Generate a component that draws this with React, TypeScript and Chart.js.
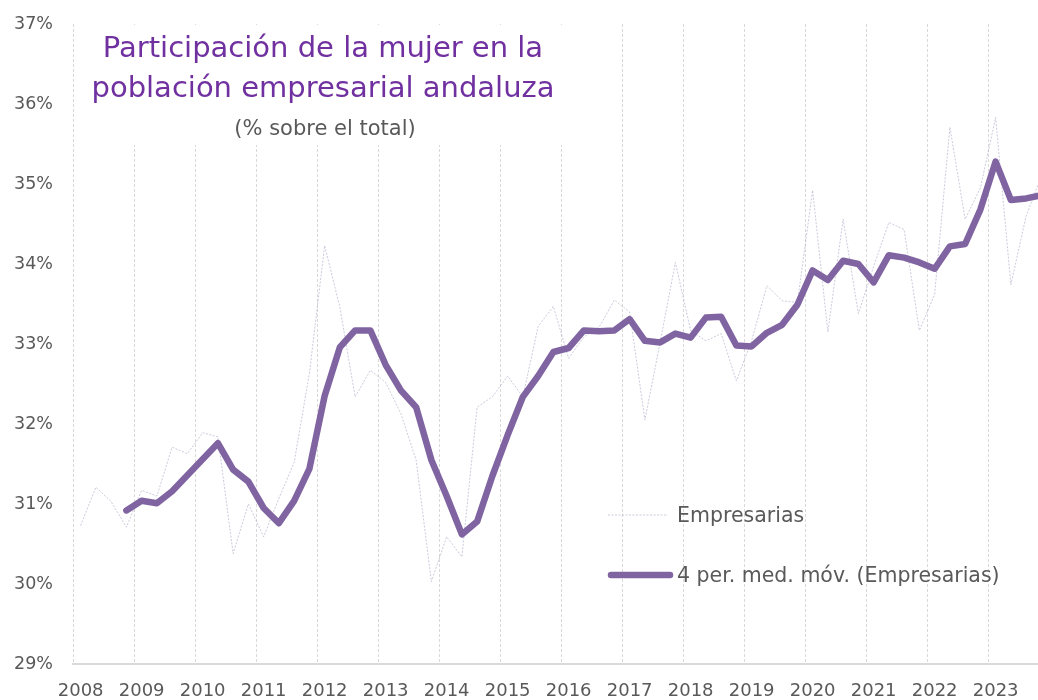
import React, { useEffect, useRef } from 'react';
import { Chart, registerables } from 'chart.js';

Chart.register(...registerables);

const FONT = '"DejaVu Sans", sans-serif';

const years = ['2008', '2009', '2010', '2011', '2012', '2013', '2014', '2015', '2016', '2017', '2018', '2019', '2020', '2021', '2022', '2023'];
const quarters = ['T1', 'T2', 'T3', 'T4'];

// Empresarias: % de mujeres sobre el total (trimestral)
const empresarias = [
  30.73, 31.21, 31.03, 30.71,
  31.17, 31.10, 31.71, 31.63,
  31.89, 31.84, 30.38, 31.00,
  30.59, 31.07, 31.52, 32.63,
  34.23, 33.46, 32.34, 32.67,
  32.52, 32.13, 31.55, 30.03,
  30.59, 30.34, 32.21, 32.34,
  32.60, 32.34, 33.22, 33.47,
  32.82, 33.09, 33.21, 33.55,
  33.40, 32.05, 33.02, 34.02,
  33.17, 33.04, 33.13, 32.54,
  33.04, 33.73, 33.54, 33.52,
  34.92, 33.15, 34.56, 33.38,
  33.97, 34.52, 34.43, 33.17,
  33.62, 35.71, 34.56, 34.95,
  35.83, 33.74, 34.60, 35.10,
];

// 4 per. med. móv. (Empresarias)
const mediaMovil = [
  null, null, null, 30.92,
  31.04, 31.01, 31.16, 31.36,
  31.56, 31.76, 31.43, 31.28,
  30.95, 30.76, 31.04, 31.44,
  32.35, 32.96, 33.17, 33.17,
  32.74, 32.42, 32.21, 31.55,
  31.10, 30.62, 30.78, 31.35,
  31.86, 32.34, 32.60, 32.90,
  32.95, 33.17, 33.16, 33.17,
  33.31, 33.04, 33.02, 33.13,
  33.08, 33.33, 33.34, 32.98,
  32.97, 33.14, 33.24, 33.49,
  33.92, 33.80, 34.04, 34.00,
  33.77, 34.11, 34.08, 34.02,
  33.94, 34.22, 34.25, 34.68,
  35.28, 34.80, 34.82, 34.86,
];

const titleLines = ['Participación de la mujer en la', 'población empresarial andaluza'];
const subtitle = '(% sobre el total)';
const seriesNames = ['Empresarias', '4 per. med. móv. (Empresarias)'];

const categories = years.flatMap((y) => quarters.map((q) => `${y} ${q}`));

const GRAY_LINE = 'rgba(180,180,205,0.7)';
const PURPLE = '#8064A2';
const TEXT_GRAY = '#595959';

const overlayPlugin = {
  id: 'overlay',
  beforeDatasetsDraw(chart: any) {
    const ctx = chart.ctx as CanvasRenderingContext2D;
    ctx.save();
    ctx.fillStyle = '#ffffff';
    ctx.fillRect(86, 25, 480, 120);
    ctx.textAlign = 'center';
    ctx.textBaseline = 'alphabetic';
    ctx.fillStyle = '#7030A0';
    ctx.font = `29px ${FONT}`;
    ctx.fillText(titleLines[0], 323, 57);
    ctx.fillText(titleLines[1], 323, 97);
    ctx.fillStyle = TEXT_GRAY;
    ctx.font = `21px ${FONT}`;
    ctx.fillText(subtitle, 325, 135);
    ctx.restore();
  },
  afterDatasetsDraw(chart: any) {
    const ctx = chart.ctx as CanvasRenderingContext2D;
    ctx.save();
    // legend entry 1
    ctx.strokeStyle = GRAY_LINE;
    ctx.lineWidth = 1;
    ctx.setLineDash([2, 1.5]);
    ctx.beginPath();
    ctx.moveTo(608, 515);
    ctx.lineTo(668, 515);
    ctx.stroke();
    // legend entry 2
    ctx.setLineDash([]);
    ctx.strokeStyle = PURPLE;
    ctx.lineWidth = 6.5;
    ctx.lineCap = 'round';
    ctx.beginPath();
    ctx.moveTo(611, 575);
    ctx.lineTo(670, 575);
    ctx.stroke();
    ctx.fillStyle = TEXT_GRAY;
    ctx.font = `20.5px ${FONT}`;
    ctx.textAlign = 'left';
    ctx.textBaseline = 'alphabetic';
    ctx.fillText(seriesNames[0], 677, 522);
    ctx.fillText(seriesNames[1], 677, 582);
    ctx.restore();
  },
};

export default function App() {
  const canvasRef = useRef<HTMLCanvasElement | null>(null);

  useEffect(() => {
    if (!canvasRef.current) return;
    const chart = new Chart(canvasRef.current, {
      type: 'line',
      data: {
        labels: categories,
        datasets: [
          {
            label: seriesNames[0],
            data: empresarias,
            borderColor: GRAY_LINE,
            borderWidth: 1,
            borderDash: [2, 1.5],
            pointRadius: 0,
            tension: 0,
            order: 1,
          },
          {
            label: seriesNames[1],
            data: mediaMovil,
            borderColor: PURPLE,
            borderWidth: 6.5,
            borderCapStyle: 'round',
            borderJoinStyle: 'round',
            pointRadius: 0,
            tension: 0,
            order: 0,
          },
        ],
      },
      options: {
        animation: false,
        responsive: true,
        maintainAspectRatio: false,
        layout: { padding: { top: 24, left: 0, right: 0, bottom: 0 } },
        plugins: {
          legend: { display: false },
          tooltip: { enabled: false },
          title: { display: false },
        },
        scales: {
          x: {
            type: 'category',
            offset: true,
            afterFit: (scale: any) => {
              scale.height = 36;
            },
            grid: {
              offset: true,
              drawTicks: true,
              tickLength: 17,
              tickColor: 'rgba(0,0,0,0)',
              lineWidth: 1,
              color: (ctx: any) => (ctx.index % 4 === 0 ? '#d9d9d9' : 'rgba(0,0,0,0)'),
            },
            border: { display: true, color: '#d9d9d9', width: 2, dash: [3, 2] },
            ticks: {
              autoSkip: false,
              maxRotation: 0,
              minRotation: 0,
              padding: 0,
              color: TEXT_GRAY,
              font: { family: FONT, size: 18 },
              callback: (_v: any, i: number) => (i % 4 === 0 ? years[i / 4] : ''),
            },
          },
          y: {
            min: 29,
            max: 37,
            afterFit: (scale: any) => {
              scale.width = 73;
            },
            grid: { display: false, drawTicks: true, tickLength: 20 },
            border: { display: false },
            ticks: {
              stepSize: 1,
              padding: 0,
              color: TEXT_GRAY,
              font: { family: FONT, size: 17.5 },
              callback: (v: any) => `${v}%`,
            },
          },
        },
      },
      plugins: [overlayPlugin],
    });
    return () => chart.destroy();
  }, []);

  return (
    <div
      style={{
        position: 'absolute',
        left: 0,
        top: 0,
        width: 1038,
        height: 700,
        overflow: 'hidden',
        background: '#ffffff',
      }}
    >
      <div style={{ position: 'relative', width: 1049, height: 700 }}>
        <canvas ref={canvasRef} />
      </div>
    </div>
  );
}
